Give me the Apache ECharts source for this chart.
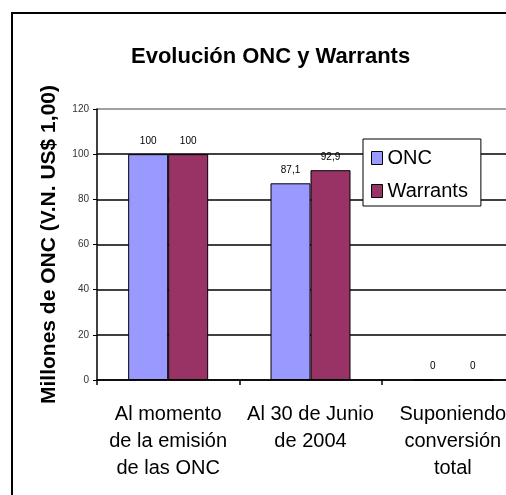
<!DOCTYPE html>
<html>
<head>
<meta charset="utf-8">
<script src="https://cdn.jsdelivr.net/npm/echarts@6/dist/echarts.min.js"></script>
<style>
	html, body { margin: 0; padding: 0; background: #fff; overflow: hidden; }
	/* el grafico original esta recortado por la derecha */
	#chart { width: 526px; height: 495px; }
</style>
</head>
<body>
<div id="chart"></div>
<script>
	// datos
	const categories = ['Al momento\nde la emisión\nde las ONC', 'Al 30 de Junio\nde 2004', 'Suponiendo\nconversión\ntotal'];
	const oncData = [100, 87.1, 0];
	const warrantsData = [100, 92.9, 0];
	const yTicks = [0, 20, 40, 60, 80, 100, 120];

	const font = "'Liberation Sans', Arial, sans-serif";
	const chart = echarts.init(document.getElementById('chart'));

	const labelFmt = (p) => String(p.value).replace('.', ',');

	let option = {
		backgroundColor: '#fff',
		animation: false,
		textStyle: { fontFamily: font },
		graphic: [{
			type: 'rect',
			z: -10,
			silent: true,
			shape: { x: 12, y: 13, width: 700, height: 700 },
			style: { fill: 'none', stroke: '#000', lineWidth: 2 }
		}],
		title: {
			text: 'Evolución ONC y Warrants',
			left: 131,
			top: 46,
			padding: 0,
			textStyle: { fontSize: 22, fontWeight: 'bold', color: '#000', fontFamily: font }
		},
		legend: {
			orient: 'vertical',
			left: 363,
			top: 139,
			padding: [9, 13, 5, 8],
			itemGap: 13,
			itemWidth: 11,
			itemHeight: 13,
			itemTextGap: 6,
			icon: 'rect',
			backgroundColor: '#fff',
			borderColor: '#000',
			borderWidth: 1,
			itemStyle: { borderColor: '#000', borderWidth: 1 },
			textStyle: { fontSize: 20, color: '#000', lineHeight: 20, fontFamily: font },
			data: ['ONC', 'Warrants']
		},
		grid: {
			left: 97,
			top: 109,
			width: 427,
			height: 271
		},
		xAxis: {
			type: 'category',
			data: categories,
			axisLine: { lineStyle: { color: '#000', width: 1.5 } },
			axisTick: { show: true, length: 5, lineStyle: { color: '#000', width: 1.5 } },
			axisLabel: {
				interval: 0,
				fontSize: 20,
				lineHeight: 27,
				color: '#000',
				margin: 21,
				fontFamily: font
			}
		},
		yAxis: {
			type: 'value',
			min: yTicks[0],
			max: yTicks[yTicks.length - 1],
			interval: 20,
			name: 'Millones de ONC (V.N. US$ 1,00)',
			nameLocation: 'middle',
			nameGap: 37,
			nameTextStyle: { fontSize: 21, fontWeight: 'bold', color: '#000', fontFamily: font },
			axisLine: { show: true, lineStyle: { color: '#000', width: 1.5 } },
			axisTick: { show: true, length: 4, lineStyle: { color: '#000', width: 1 } },
			axisLabel: { fontSize: 10, color: '#333', margin: 8, fontFamily: font },
			splitLine: {
				show: true,
				lineStyle: {
					color: ['#000', '#000', '#000', '#000', '#000', '#000', '#808080'],
					width: 1.5
				}
			}
		},
		series: [{
			name: 'ONC',
			type: 'bar',
			barWidth: 40,
			barGap: '0%',
			itemStyle: { color: '#9999FF', borderColor: '#000', borderWidth: 1 },
			label: { show: true, position: 'top', distance: 8, fontSize: 10, color: '#000', formatter: labelFmt },
			data: oncData
		}, {
			name: 'Warrants',
			type: 'bar',
			barWidth: 40,
			barGap: '0%',
			itemStyle: { color: '#993366', borderColor: '#000', borderWidth: 1 },
			label: { show: true, position: 'top', distance: 8, fontSize: 10, color: '#000', formatter: labelFmt },
			data: warrantsData
		}]
	};
	chart.setOption(option);
</script>
</body>
</html>
